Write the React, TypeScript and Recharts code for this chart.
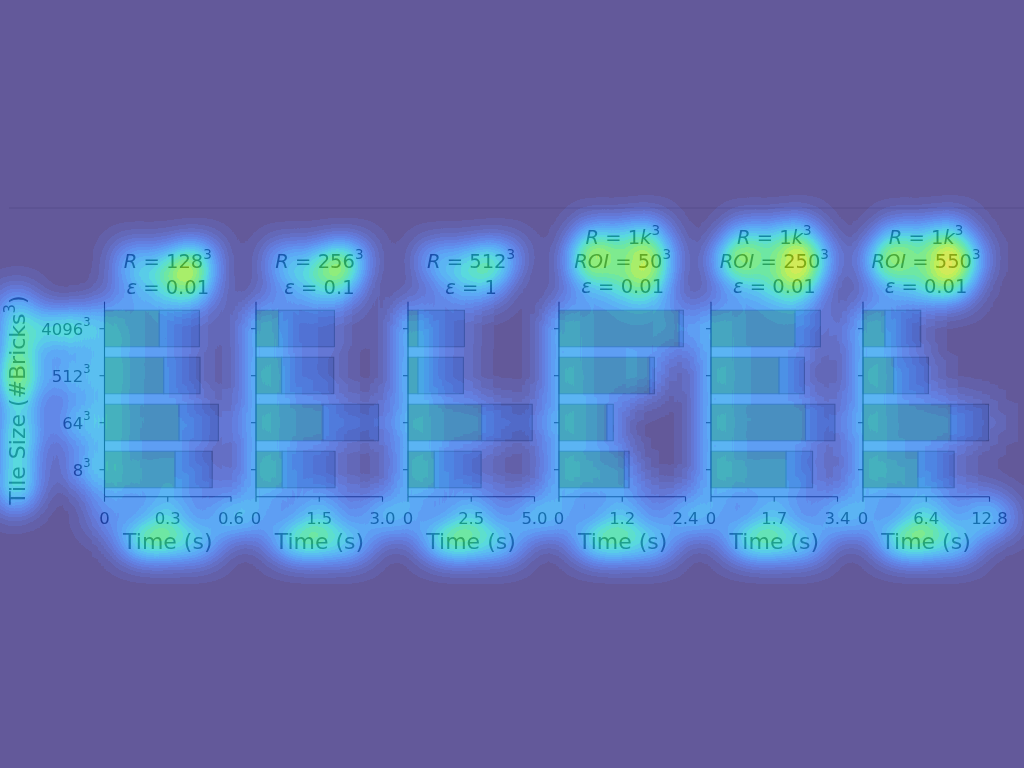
import React from 'react';
import { BarChart, Bar, XAxis, YAxis } from 'recharts';

// tile sizes (exponent 3), top to bottom
const tileSizes = ['4096', '512', '64', '8'];

// panel titles
const resolution = ['128', '256', '512', '1k', '1k', '1k'];
const roiSize = ['', '', '', '50', '250', '550'];
const epsilon = ['0.01', '0.1', '1', '0.01', '0.01', '0.01'];

// x axis range + tick labels per panel
const axisMax = [0.6, 3.0, 5.0, 2.4, 3.4, 12.8];
const tickLabels = [
  ['0', '0.3', '0.6'],
  ['0', '1.5', '3.0'],
  ['0', '2.5', '5.0'],
  ['0', '1.2', '2.4'],
  ['0', '1.7', '3.4'],
  ['0', '6.4', '12.8'],
];

// time (s) of the two stacked stages, per tile size
const r128Stage1 = [0.26, 0.281, 0.354, 0.335];
const r128Stage2 = [0.19, 0.172, 0.186, 0.176];
const r256Stage1 = [0.536, 0.607, 1.59, 0.622];
const r256Stage2 = [1.324, 1.236, 1.316, 1.252];
const r512Stage1 = [0.396, 0.396, 2.91, 1.04];
const r512Stage2 = [1.834, 1.794, 2.0, 1.85];
const roi50Stage1 = [2.28, 1.72, 0.91, 1.24];
const roi50Stage2 = [0.08, 0.09, 0.12, 0.09];
const roi250Stage1 = [2.26, 1.83, 2.54, 2.02];
const roi250Stage2 = [0.68, 0.68, 0.79, 0.71];
const roi550Stage1 = [2.23, 3.1, 8.88, 5.57];
const roi550Stage2 = [3.61, 3.52, 3.82, 3.65];

const stage1 = [r128Stage1, r256Stage1, r512Stage1, roi50Stage1, roi250Stage1, roi550Stage1];
const stage2 = [r128Stage2, r256Stage2, r512Stage2, roi50Stage2, roi250Stage2, roi550Stage2];

// layout
const PLOT_X0 = 104.5;
const PANEL_STEP = 151.65;
const PLOT_W = 126.5;
const PLOT_TOP = 301.7;
const PLOT_H = 195;
const CHART_H = 560;
const FONT = 'DejaVu Sans';
const INK = '#383838';
const LABEL_INK = '#4a4a4a';

// heat colour ramp (sRGB, 11 stops)
const HEAT_R = '0.059 0.063 0.067 0.051 0.020 0.004 0 0.082 0.286 0.608 0.847';
const HEAT_G = '0 0.098 0.196 0.322 0.471 0.627 0.788 0.847 0.890 0.910 0.847';
const HEAT_B = '0.392 0.588 0.780 0.902 0.945 0.910 0.788 0.506 0.243 0.004 0';

function TileTick(props: any) {
  const { x, y, payload, show } = props;
  if (!show) return <g />;
  return (
    <text x={x} y={y + 6.5} textAnchor="end" fontSize={16.5} fontFamily={FONT} fill={INK}>
      {payload.value}
      <tspan dy={-9} fontSize={11.5}>3</tspan>
    </text>
  );
}

function TimeTick(props: any) {
  const { x, y, index, labels } = props;
  return (
    <text x={x} y={y + 20} textAnchor="middle" fontSize={16.5} fontFamily={FONT} fill={INK}>
      {labels[index]}
    </text>
  );
}

function Panel({ i }: { i: number }) {
  const plotX = PLOT_X0 + i * PANEL_STEP;
  const ml = i === 0 ? plotX - 1 : 29;
  const mr = 30;
  const left = plotX - ml - 1;
  const data = tileSizes.map((t, k) => ({ tile: t, s1: stage1[i][k], s2: stage2[i][k] }));
  const max = axisMax[i];
  return (
    <div style={{ position: 'absolute', left, top: 0 }}>
      <BarChart
        width={ml + 1 + PLOT_W + mr}
        height={CHART_H}
        data={data}
        layout="vertical"
        barSize={36.5}
        margin={{ top: PLOT_TOP, right: mr, left: ml, bottom: CHART_H - PLOT_TOP - PLOT_H - 30 }}
      >
        <XAxis
          type="number"
          domain={[0, max]}
          ticks={[0, max / 2, max]}
          height={30}
          tickSize={5}
          tickMargin={2}
          stroke={INK}
          axisLine={{ stroke: INK, strokeWidth: 1.1 }}
          tickLine={{ stroke: INK, strokeWidth: 1.1 }}
          tick={(p: any) => <TimeTick {...p} labels={tickLabels[i]} />}
          interval={0}
        />
        <YAxis
          type="category"
          dataKey="tile"
          width={1}
          tickSize={5}
          tickMargin={9}
          padding={{ top: 3.5, bottom: 3.5 }}
          stroke={INK}
          axisLine={{ stroke: INK, strokeWidth: 1.1 }}
          tickLine={{ stroke: INK, strokeWidth: 1.1 }}
          tick={(p: any) => <TileTick {...p} show={i === 0} />}
          interval={0}
        />
        <Bar dataKey="s1" stackId="t" fill="#c2d66f" stroke="#95a586" strokeWidth={1.1} isAnimationActive={false} />
        <Bar dataKey="s2" stackId="t" fill="#cbdadc" stroke="#95a586" strokeWidth={1.1} isAnimationActive={false} />
      </BarChart>
    </div>
  );
}

function Sup({ children, size }: { children: React.ReactNode; size: number }) {
  return <tspan dy={-9} fontSize={size}>{children}</tspan>;
}

function Titles() {
  return (
    <>
      {resolution.map((r, i) => {
        const cx = PLOT_X0 + i * PANEL_STEP + PLOT_W / 2;
        const three = roiSize[i] !== '';
        const ys = three ? [243.5, 268, 292.5] : [268, 293.5];
        return (
          <g key={i} fontSize={19.5} fill={INK} textAnchor="middle">
            <text x={cx} y={ys[0]}>
              <tspan fontStyle="italic">R</tspan> = {r.replace('k', '')}
              {r.includes('k') && <tspan fontStyle="italic">k</tspan>}
              <Sup size={13.5}>3</Sup>
            </text>
            {three && (
              <text x={cx} y={ys[1]}>
                <tspan fontStyle="italic">ROI</tspan> = {roiSize[i]}
                <Sup size={13.5}>3</Sup>
              </text>
            )}
            <text x={cx} y={ys[ys.length - 1]}>
              <tspan fontStyle="italic">ε</tspan> = {epsilon[i]}
            </text>
            <text x={cx} y={549} fontSize={22} fill={LABEL_INK}>Time (s)</text>
          </g>
        );
      })}
      <text x={25} y={400} fontSize={22} fill={LABEL_INK} textAnchor="middle" transform="rotate(-90, 25, 400)">
        Tile Size (#Bricks<tspan dy={-10} fontSize={15}>3</tspan><tspan dy={10}>)</tspan>
      </text>
    </>
  );
}

export default function App() {
  return (
    <>
      <svg width={0} height={0} style={{ position: 'absolute' }}>
        <defs>
          <filter
            id="heat"
            filterUnits="userSpaceOnUse"
            primitiveUnits="userSpaceOnUse"
            x={0}
            y={0}
            width={1024}
            height={768}
            colorInterpolationFilters="sRGB"
          >
            <feColorMatrix in="SourceGraphic" type="matrix" values="0 0 0 0 0  0 0 0 0 0  0 0 0 0 0  0 -1.15 0 1 0" result="ink" />
            <feGaussianBlur in="ink" stdDeviation={17} result="blur" />
            <feColorMatrix in="blur" type="matrix" values="0 0 0 11.5 0  0 0 0 11.5 0  0 0 0 11.5 0  0 0 0 0 1" result="level" />
            <feComponentTransfer in="level" result="heatmap">
              <feFuncR type="table" tableValues={HEAT_R} />
              <feFuncG type="table" tableValues={HEAT_G} />
              <feFuncB type="table" tableValues={HEAT_B} />
            </feComponentTransfer>
            <feFlood floodColor="#ffffff" result="white" />
            <feComposite in="SourceGraphic" in2="white" operator="over" result="base" />
            <feComposite in="heatmap" in2="base" operator="arithmetic" k1={0} k2={0.65} k3={0.35} k4={0} />
          </filter>
        </defs>
      </svg>
      <div
        style={{
          position: 'absolute',
          left: 0,
          top: 0,
          width: 1024,
          height: 768,
          overflow: 'hidden',
          fontFamily: FONT,
          filter: 'url(#heat)',
        }}
      >
        {resolution.map((_, i) => (
          <Panel key={i} i={i} />
        ))}
        <svg width={1024} height={768} style={{ position: 'absolute', left: 0, top: 0 }} fontFamily={FONT}>
          <line x1={9} x2={1024} y1={208} y2={208} stroke="#dadada" strokeWidth={1} />
          <Titles />
        </svg>
      </div>
    </>
  );
}
